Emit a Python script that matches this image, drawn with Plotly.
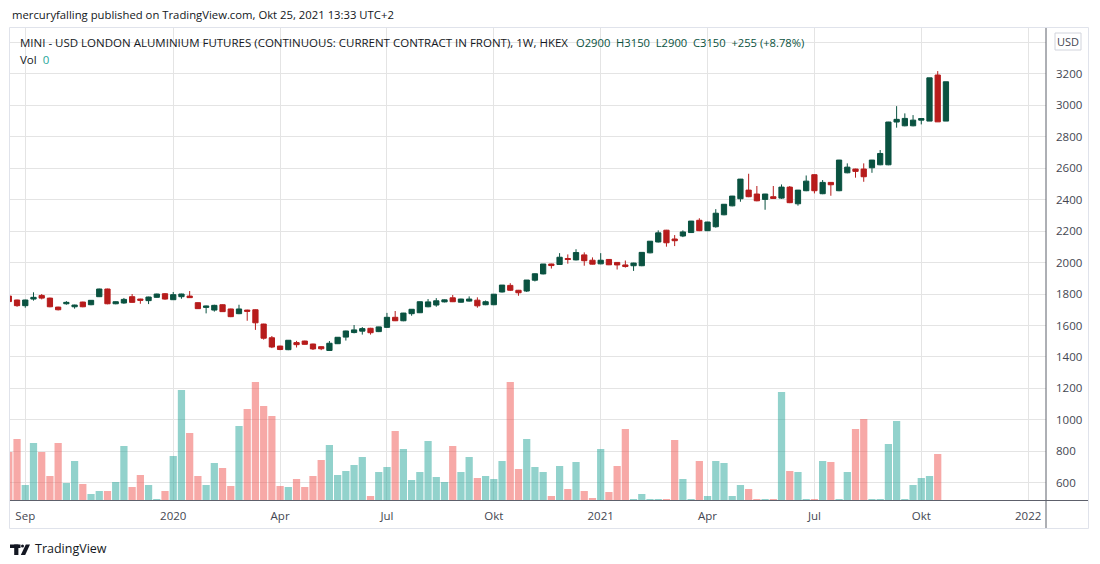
import plotly.graph_objects as go
import pandas as pd

# ---------------- data ----------------
weeks = pd.date_range("2019-08-19", periods=115, freq="7D")

open_ = [1787, 1762, 1726, 1768, 1791, 1774, 1717, 1738, 1719, 1749,
         1732, 1783, 1832, 1738, 1743, 1783, 1768, 1758, 1779, 1802,
         1764, 1783, 1787, 1745, 1715, 1698, 1732, 1705, 1675, 1698,
         1700, 1609, 1522, 1469, 1446, 1491, 1501, 1482, 1465, 1441,
         1484, 1526, 1555, 1564, 1582, 1561, 1588, 1652, 1630, 1675,
         1681, 1719, 1730, 1750, 1776, 1748, 1755, 1761, 1732, 1732,
         1813, 1855, 1824, 1819, 1888, 1928, 1991, 1988, 2026, 2017,
         2049, 2015, 1992, 2020, 2001, 1985, 1980, 1980, 2062, 2131,
         2206, 2150, 2169, 2191, 2269, 2203, 2228, 2304, 2361, 2406,
         2461, 2436, 2402, 2419, 2410, 2480, 2374, 2457, 2559, 2438,
         2510, 2457, 2571, 2595, 2595, 2603, 2622, 2622, 2894, 2870,
         2870, 2906, 2900, 3193, 2900]
high = [1790, 1764, 1764, 1811, 1800, 1777, 1719, 1755, 1732, 1751,
        1762, 1834, 1834, 1753, 1775, 1800, 1770, 1783, 1802, 1806,
        1813, 1802, 1819, 1747, 1726, 1732, 1734, 1707, 1732, 1700,
        1702, 1611, 1533, 1471, 1507, 1502, 1503, 1484, 1467, 1501,
        1526, 1567, 1603, 1590, 1585, 1592, 1680, 1692, 1680, 1704,
        1752, 1768, 1774, 1765, 1794, 1770, 1785, 1779, 1759, 1800,
        1857, 1869, 1826, 1889, 1931, 1991, 1993, 2060, 2052, 2085,
        2065, 2033, 2060, 2022, 2003, 2013, 1999, 2066, 2137, 2205,
        2208, 2175, 2205, 2265, 2282, 2259, 2340, 2372, 2424, 2532,
        2565, 2487, 2437, 2487, 2497, 2487, 2462, 2554, 2562, 2525,
        2512, 2653, 2631, 2597, 2631, 2653, 2716, 2895, 2995, 2949,
        2938, 2917, 3175, 3218, 3150]
low = [1748, 1719, 1713, 1758, 1766, 1716, 1696, 1732, 1707, 1716,
       1729, 1781, 1735, 1735, 1738, 1745, 1738, 1736, 1777, 1764,
       1762, 1770, 1775, 1705, 1677, 1688, 1686, 1653, 1672, 1630,
       1572, 1510, 1456, 1443, 1443, 1460, 1478, 1444, 1443, 1438,
       1482, 1504, 1550, 1542, 1542, 1558, 1585, 1628, 1627, 1662,
       1679, 1716, 1719, 1747, 1749, 1745, 1752, 1713, 1729, 1729,
       1810, 1819, 1789, 1813, 1880, 1925, 1962, 1985, 1993, 2014,
       1980, 1988, 1989, 1984, 1956, 1968, 1947, 1977, 2059, 2128,
       2101, 2105, 2162, 2188, 2200, 2200, 2222, 2301, 2358, 2387,
       2416, 2390, 2336, 2405, 2405, 2378, 2362, 2454, 2440, 2435,
       2425, 2454, 2568, 2540, 2514, 2571, 2619, 2619, 2858, 2867,
       2867, 2879, 2900, 2895, 2900]
close = [1752, 1726, 1762, 1779, 1774, 1719, 1700, 1747, 1730, 1719,
         1760, 1832, 1738, 1751, 1766, 1747, 1760, 1781, 1800, 1768,
         1796, 1800, 1777, 1707, 1724, 1728, 1688, 1656, 1705, 1690,
         1617, 1519, 1463, 1447, 1506, 1478, 1480, 1451, 1452, 1487,
         1525, 1565, 1572, 1580, 1554, 1591, 1652, 1630, 1679, 1703,
         1751, 1750, 1757, 1763, 1751, 1768, 1768, 1725, 1751, 1799,
         1857, 1824, 1808, 1889, 1929, 1991, 1981, 2034, 2020, 2064,
         2012, 1990, 2015, 1986, 1985, 1975, 1997, 2065, 2136, 2189,
         2126, 2139, 2195, 2264, 2203, 2258, 2314, 2371, 2423, 2531,
         2419, 2393, 2436, 2408, 2480, 2381, 2461, 2518, 2457, 2510,
         2495, 2652, 2607, 2580, 2546, 2652, 2694, 2894, 2911, 2917,
         2906, 2916, 3175, 2895, 3150]
volume = [48, 61, 15, 57, 48, 24, 57, 17, 39, 16,
          6, 9, 9, 18, 54, 13, 25, 15, 1, 9,
          44, 110, 67, 24, 15, 37, 32, 14, 74, 91,
          118, 94, 84, 14, 13, 21, 13, 24, 40, 55,
          25, 29, 35, 43, 4, 28, 33, 69, 51, 20,
          28, 59, 23, 18, 54, 28, 43, 22, 24, 21,
          39, 118, 31, 61, 33, 28, 4, 34, 11, 38,
          9, 2, 51, 8, 34, 71, 1, 6, 1, 1,
          1, 60, 21, 1, 39, 4, 39, 37, 4, 15,
          11, 1, 1, 1, 108, 29, 28, 1, 1, 39,
          38, 1, 28, 71, 81, 1, 1, 56, 79, 1,
          15, 22, 24, 46, 0]

x_tick_dates = ["2019-09-02", "2020-01-06", "2020-04-06", "2020-07-06", "2020-10-05",
                "2021-01-04", "2021-04-05", "2021-07-05", "2021-10-04", "2022-01-03"]
x_tick_labels = ["Sep", "2020", "Apr", "Jul", "Okt", "2021", "Apr", "Jul", "Okt", "2022"]
price_ticks = [600, 800, 1000, 1200, 1400, 1600, 1800, 2000, 2200, 2400,
               2600, 2800, 3000, 3200, 3400]
price_tick_labels = ["600", "800", "1000", "1200", "1400", "1600", "1800", "2000",
                     "2200", "2400", "2600", "2800", "3000", "3200", ""]

# ---------------- styles ----------------
UP = "#0a5240"
DOWN = "#b71c1c"
VOL_UP = "rgba(38,166,154,0.5)"
VOL_DOWN = "rgba(239,83,80,0.5)"
GRID = "#e4e4e4"
AXIS = "#5d606b"
TEXT = "#131722"
FONT = "Open Sans"

# the page body has an 8px margin: figure is drawn at (8, 8) in the window
OFF = 8
W, H = 1092, 548
# plot area in window pixels
L, R, T, B = 10, 1046, 28, 500


def px(x):
    return (x - L) / (R - L)


def py(y):
    return (B - y) / (B - T)


vol_colors = [VOL_UP if c >= o else VOL_DOWN for o, c in zip(open_, close)]

fig = go.Figure()
fig.add_trace(go.Bar(
    x=weeks, y=volume, yaxis="y2", marker=dict(color=vol_colors, line=dict(width=0)),
    width=0.88 * 7 * 86400000, hoverinfo="skip", showlegend=False,
))
fig.add_trace(go.Candlestick(
    x=weeks, open=open_, high=high, low=low, close=close,
    increasing=dict(line=dict(color=UP, width=1), fillcolor=UP),
    decreasing=dict(line=dict(color=DOWN, width=1), fillcolor=DOWN),
    whiskerwidth=0, showlegend=False,
))

shapes = [
    # outer frame
    dict(type="rect", xref="paper", yref="paper", x0=px(9.5), x1=px(1088.5),
         y0=py(528.5), y1=py(27.5), line=dict(color="#e0e3eb", width=1)),
    # price scale separator
    dict(type="line", xref="paper", yref="paper", x0=px(1046), x1=px(1046),
         y0=py(528), y1=py(28), line=dict(color=AXIS, width=1)),
    # time scale separator
    dict(type="line", xref="paper", yref="paper", x0=px(10), x1=px(1088),
         y0=py(500.5), y1=py(500.5), line=dict(color=AXIS, width=1)),
    # USD box
    dict(type="rect", xref="paper", yref="paper", x0=px(1055), x1=px(1081),
         y0=py(50), y1=py(33), line=dict(color="#d1d4dc", width=1), fillcolor="white"),
    # TradingView logo
    dict(type="rect", xref="paper", yref="paper", x0=px(10), x1=px(20.5),
         y0=py(548), y1=py(544.5), line=dict(width=0), fillcolor=TEXT),
    dict(type="rect", xref="paper", yref="paper", x0=px(14.2), x1=px(18.4),
         y0=py(555), y1=py(544.5), line=dict(width=0), fillcolor=TEXT),
    dict(type="circle", xref="paper", yref="paper", x0=px(21), x1=px(24),
         y0=py(547.6), y1=py(544.5), line=dict(width=0), fillcolor=TEXT),
    dict(type="path", xref="paper", yref="paper",
         path=f"M {px(25.8)} {py(544.5)} L {px(30)} {py(544.5)} L {px(25.2)} {py(555)} L {px(20.8)} {py(555)} Z",
         line=dict(width=0), fillcolor=TEXT),
]

annotations = [
    dict(text="mercuryfalling published on TradingView.com, Okt 25, 2021 13:33 UTC+2",
         x=px(10), y=py(14), font=dict(size=11.3, color=TEXT)),
    dict(text="MINI - USD LONDON ALUMINIUM FUTURES (CONTINUOUS: CURRENT CONTRACT IN FRONT), 1W, HKEX",
         x=px(18), y=py(42), font=dict(size=11.5, color=TEXT)),
    dict(text="O2900&nbsp;&nbsp;H3150&nbsp;&nbsp;L2900&nbsp;&nbsp;C3150&nbsp;&nbsp;+255 (+8.78%)",
         x=px(574), y=py(42), font=dict(size=11.2, color=UP)),
    dict(text="Vol&nbsp;&nbsp;<span style='color:#26a69a'>0</span>",
         x=px(18), y=py(59), font=dict(size=11.5, color=TEXT)),
    dict(text="USD", x=px(1068), y=py(41.5), xanchor="center",
         font=dict(size=11, color="#434651")),
    dict(text="TradingView", x=px(33), y=py(548), font=dict(size=12.5, color=TEXT)),
]
for a in annotations:
    a.setdefault("xanchor", "left")
    a.update(xref="paper", yref="paper", yanchor="middle", showarrow=False)

fig.update_layout(
    width=W, height=H,
    margin=dict(l=L - OFF, r=W - (R - OFF), t=T - OFF, b=H - (B - OFF), pad=0),
    paper_bgcolor="white", plot_bgcolor="white",
    font=dict(family=FONT, size=11, color="#434651"),
    showlegend=False,
    boxgap=0.2, boxgroupgap=0.2,
    xaxis=dict(
        type="date", range=["2019-08-20 00:00", "2022-01-18 05:00"],
        tickvals=x_tick_dates, ticktext=x_tick_labels,
        showgrid=True, gridcolor=GRID, gridwidth=1, zeroline=False,
        showline=False, ticks="", ticklabelstandoff=7,
        rangeslider=dict(visible=False), fixedrange=True,
        tickfont=dict(size=11.5, color="#434651"),
    ),
    yaxis=dict(
        side="right", range=[490, 3492],
        tickvals=price_ticks, ticktext=price_tick_labels,
        showgrid=True, gridcolor=GRID, gridwidth=1, zeroline=False,
        showline=False, ticks="", ticklabelstandoff=9,
        tickfont=dict(size=11.5, color="#434651"), fixedrange=True,
    ),
    yaxis2=dict(overlaying="y", range=[0, 472], visible=False, fixedrange=True),
    shapes=shapes,
    annotations=annotations,
)

fig.write_html("out.html")
